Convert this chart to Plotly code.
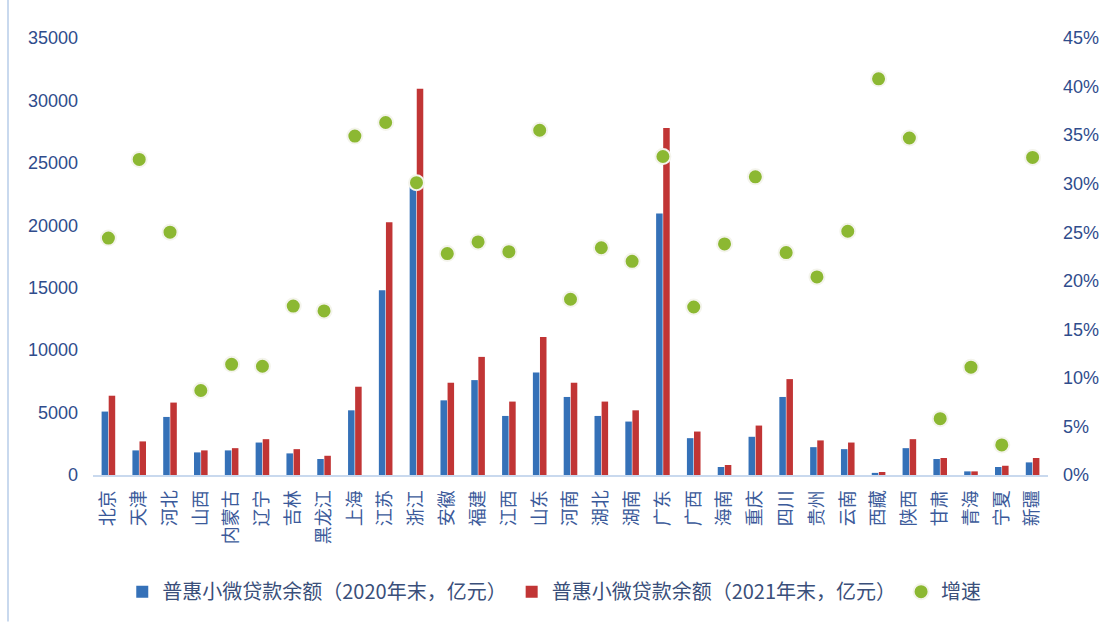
import plotly.graph_objects as go

provinces = ["北京", "天津", "河北", "山西", "内蒙古", "辽宁", "吉林", "黑龙江", "上海", "江苏",
             "浙江", "安徽", "福建", "江西", "山东", "河南", "湖北", "湖南", "广东", "广西",
             "海南", "重庆", "四川", "贵州", "云南", "西藏", "陕西", "甘肃", "青海", "宁夏", "新疆"]

balance_2020 = [5080, 1970, 4650, 1810, 1970, 2600, 1730, 1280, 5180, 14800,
                23450, 5980, 7600, 4730, 8210, 6250, 4730, 4280, 20940, 2950,
                640, 3060, 6250, 2230, 2070, 170, 2150, 1280, 290, 640, 1010]

balance_2021 = [6350, 2690, 5800, 1970, 2150, 2870, 2070, 1540, 7070, 20250,
                30930, 7390, 9460, 5880, 11060, 7390, 5880, 5180, 27800, 3480,
                800, 3960, 7680, 2770, 2600, 240, 2870, 1360, 290, 740, 1360]

growth = [0.244, 0.325, 0.250, 0.087, 0.114, 0.112, 0.174, 0.169, 0.349, 0.363,
          0.301, 0.228, 0.240, 0.230, 0.355, 0.181, 0.234, 0.220, 0.328, 0.173,
          0.238, 0.307, 0.229, 0.204, 0.251, 0.408, 0.347, 0.058, 0.111, 0.031, 0.327]

label_2020 = "普惠小微贷款余额（2020年末，亿元）"
label_2021 = "普惠小微贷款余额（2021年末，亿元）"
label_growth = "增速"

text_color = "#2F4C8C"
axis_color = "#C9D9EE"
font_family = "Noto Sans CJK SC, Noto Sans, sans-serif"

fig = go.Figure()

fig.add_trace(go.Bar(
    x=provinces, y=balance_2020, name=label_2020,
    marker=dict(color="#3571B8", line=dict(width=0)),
))
fig.add_trace(go.Bar(
    x=provinces, y=balance_2021, name=label_2021,
    marker=dict(color="#C13535", line=dict(width=0)),
))
fig.add_trace(go.Scatter(
    x=provinces, y=growth, name=label_growth, yaxis="y2", mode="markers",
    marker=dict(color="#8CB832", size=15, line=dict(color="#F4F4EC", width=2)),
))

fig.update_layout(
    width=1102, height=623,
    margin=dict(l=93, r=54, t=38, b=146),
    paper_bgcolor="white", plot_bgcolor="white",
    font=dict(family=font_family, color=text_color),
    barmode="group", bargap=0.54, bargroupgap=0.08,
    showlegend=True,
    legend=dict(
        orientation="h", x=0.483, xanchor="center", y=-0.267, yanchor="middle",
        font=dict(size=20, color="#3A4F7A"), itemwidth=30,
    ),
    xaxis=dict(
        type="category", range=[-0.5, len(provinces) - 0.5], tickangle=-90, showgrid=False,
        showline=True, linecolor=axis_color, linewidth=2,
        ticks="", tickfont=dict(size=18, color="#3B5A9A"),
        ticklabelstandoff=6, automargin=False,
    ),
    yaxis=dict(
        range=[0, 35000], dtick=5000, tickformat="d", showgrid=False, zeroline=False,
        showline=False, ticks="", tickfont=dict(size=18, family="Liberation Sans", color=text_color),
        ticklabelstandoff=14, automargin=False,
    ),
    yaxis2=dict(
        range=[0, 0.45], dtick=0.05, tickformat=".0%", overlaying="y", side="right",
        showgrid=False, zeroline=False, showline=False, ticks="",
        tickfont=dict(size=18, family="Liberation Sans", color=text_color),
        ticklabelstandoff=14, automargin=False,
    ),
)

# thin frame line on the left edge of the chart area
fig.add_shape(type="line", xref="paper", yref="paper",
              x0=-0.089, x1=-0.089, y0=-0.335, y1=1.09,
              line=dict(color=axis_color, width=2))

fig.write_html("out.html")
